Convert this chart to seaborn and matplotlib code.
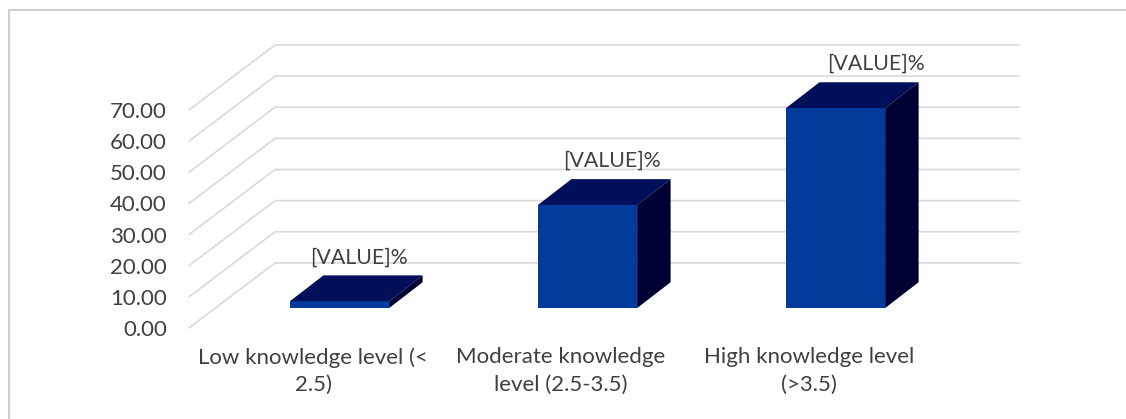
import matplotlib
matplotlib.use("Agg")
import matplotlib.pyplot as plt
import pandas as pd
import seaborn as sns
from matplotlib.lines import Line2D

categories = ["Low knowledge level (<\n2.5)", "Moderate knowledge\nlevel (2.5-3.5)", "High knowledge level\n(>3.5)"]
values = [2.2, 33.1, 64.2]
y_ticks = [0, 10, 20, 30, 40, 50, 60, 70]
bar_labels = ["[VALUE]%", "[VALUE]%", "[VALUE]%"]
label_shift_x = [19, 24, 40]

# depth of the fake 3D, in data units (1 category = 248 px, 1 y unit = 3.114 px)
WALL_DX, WALL_DY = 0.347, 20.9
BAR_BASE_DX, BAR_BASE_DY = 0.107, 6.4
BAR_DX, BAR_DY = 0.135, 8.3

TEXT = "#404040"
GRID = "#d9d9d9"
FRONT = "#023b9c"
TOP = "#000f5a"
SIDE = "#000033"


def main():
    sns.set_theme(style="white")
    plt.rcParams["font.family"] = ["Lato", "DejaVu Sans"]

    fig = plt.figure(figsize=(11.26, 4.19), dpi=100)
    ax = fig.add_axes([189 / 1126, 91 / 419, 744 / 1126, 218 / 419])
    data = pd.DataFrame({"level": categories, "value": values})
    sns.barplot(data=data, x="level", y="value", color=FRONT, saturation=1, width=0.4,
                linewidth=0, ax=ax, zorder=3)
    ax.set_xlim(-0.5, 2.5)
    ax.set_ylim(0, 70)

    # back wall gridlines and the diagonals on the left side
    for t in y_ticks:
        ax.plot([-0.5, -0.5 + WALL_DX, 2.5 + WALL_DX], [t, t + WALL_DY, t + WALL_DY],
                color=GRID, lw=1.2, clip_on=False, zorder=1)

    # move bars back on the floor, then add top and side faces
    for i, bar in enumerate(ax.patches):
        bar.set_x(bar.get_x() + BAR_BASE_DX)
        bar.set_y(BAR_BASE_DY)
        bar.set_clip_on(False)
        x0 = bar.get_x()
        x1 = x0 + bar.get_width()
        y0 = bar.get_y()
        y1 = y0 + bar.get_height()
        ax.fill([x0, x1, x1 + BAR_DX, x0 + BAR_DX], [y1, y1, y1 + BAR_DY, y1 + BAR_DY],
                color=TOP, lw=0, clip_on=False, zorder=3)
        ax.fill([x1, x1 + BAR_DX, x1 + BAR_DX, x1], [y0, y0 + BAR_DY, y1 + BAR_DY, y1],
                color=SIDE, lw=0, clip_on=False, zorder=3)
        ax.annotate(bar_labels[i], xy=((x0 + x1) / 2, y1), xytext=(label_shift_x[i] * 0.72, 44 * 0.72),
                    textcoords="offset points", ha="center", va="center",
                    fontsize=15.3, color=TEXT, zorder=4, annotation_clip=False)

    ax.set_xlabel("")
    ax.set_ylabel("")
    ax.set_yticks(y_ticks)
    ax.set_yticklabels([f"{t:.2f}" for t in y_ticks])
    ax.tick_params(axis="y", length=0, pad=16, labelsize=16, labelcolor=TEXT)
    ax.tick_params(axis="x", length=0, pad=14, labelsize=16, labelcolor=TEXT)
    for label in ax.get_xticklabels():
        label.set_linespacing(1.45)
        label.set_x(label.get_position()[0])
    sns.despine(ax=ax, left=True, bottom=True)

    # frame of the chart, only top and left are visible
    fig.add_artist(Line2D([8.5 / 1126, 8.5 / 1126, 1], [0, 1 - 10.5 / 419, 1 - 10.5 / 419],
                          color="#cfcfcf", lw=1.5))

    fig.savefig("out.png", dpi=100)


if __name__ == "__main__":
    main()
